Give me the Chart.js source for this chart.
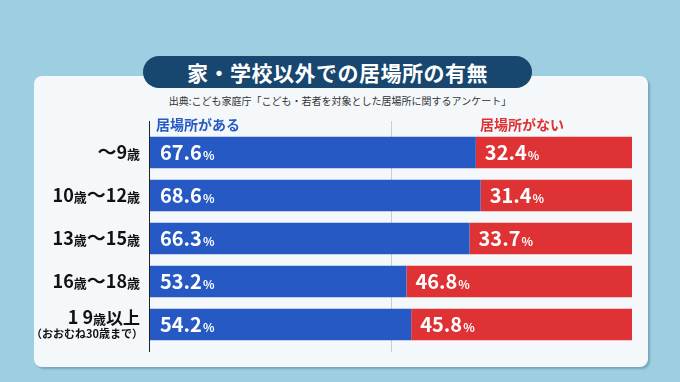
<!DOCTYPE html>
<html lang="ja">
<head>
<meta charset="utf-8">
<script src="https://cdn.jsdelivr.net/npm/chart.js@4"></script>
<style>
  body { margin: 0; width: 680px; height: 382px; background: #9dcee2; position: relative; overflow: hidden;
         font-family: "Noto Sans CJK JP", "Noto Sans", sans-serif; }
  #card { position: absolute; left: 34px; top: 76px; width: 614px; height: 291px; background: #f4f8fa;
          border-radius: 8px; box-shadow: 2px 2px 2px rgba(0, 50, 80, 0.25); }
  #title { position: absolute; left: 143px; top: 56px; width: 389px; height: 32px; border-radius: 16px;
           background: #17466f; color: #fff; font-weight: bold; font-size: 21px; line-height: 32px; text-align: center;
           letter-spacing: 0.5px; }
  #source { position: absolute; left: 0; width: 680px; top: 93px; text-align: center; font-size: 10px; color: #333; }
  #wrap { position: absolute; left: 34px; top: 110px; }
</style>
</head>
<body>
<div id="card"></div>
<div id="title">家・学校以外での居場所の有無</div>
<div id="source">出典:こども家庭庁「こども・若者を対象とした居場所に関するアンケート」</div>
<div id="wrap"><canvas id="chart" width="614" height="257"></canvas></div>
<script>
const categories = ['〜9歳', '10歳〜12歳', '13歳〜15歳', '16歳〜18歳', '19歳以上'];
const subLabels = ['', '', '', '', '（おおむね30歳まで）'];
const seriesNames = ['居場所がある', '居場所がない'];
const hasPlace = [67.6, 68.6, 66.3, 53.2, 54.2];
const noPlace = [32.4, 31.4, 33.7, 46.8, 45.8];

const blue = '#2659c4';
const red = '#de3234';
const font = '"Noto Sans CJK JP", "Noto Sans", sans-serif';

// label made of runs: 歳 smaller than the digits
function drawCategory(ctx, text, xRight, y, digitGap) {
  const runs = [];
  for (const ch of text) {
    let size = 18;
    let gap = 0;
    if (ch === '歳') size = 13;
    else if (ch === '〜') size = 19;
    else if (ch === '以' || ch === '上') size = 17;
    else if (/[0-9]/.test(ch)) gap = digitGap || 0;
    runs.push({ ch, gap, f: 'bold ' + size + 'px ' + font });
  }
  let w = 0;
  runs.forEach(r => { ctx.font = r.f; r.w = ctx.measureText(r.ch).width + r.gap; w += r.w; });
  let x = xRight - w;
  ctx.textAlign = 'left';
  ctx.textBaseline = 'alphabetic';
  runs.forEach(r => { ctx.font = r.f; ctx.fillText(r.ch, x + r.gap, y); x += r.w; });
}

const decorPlugin = {
  id: 'decor',
  beforeDatasetsDraw(chart) {
    const { ctx, chartArea } = chart;
    const xs = chart.scales.x;
    ctx.save();
    // 50% guide
    ctx.strokeStyle = '#c9cdd0';
    ctx.lineWidth = 1;
    const mid = Math.round(xs.getPixelForValue(50)) + 0.5;
    ctx.beginPath();
    ctx.moveTo(mid, chartArea.top - 10);
    ctx.lineTo(mid, chartArea.bottom + 6);
    ctx.stroke();
    // axis line
    ctx.strokeStyle = '#222';
    const x0 = Math.round(xs.getPixelForValue(0)) - 0.5;
    ctx.beginPath();
    ctx.moveTo(x0, chartArea.top - 10);
    ctx.lineTo(x0, chartArea.bottom + 6);
    ctx.stroke();
    ctx.restore();
  },
  afterDatasetsDraw(chart) {
    const { ctx, chartArea } = chart;
    const ys = chart.scales.y;
    ctx.save();
    ctx.fillStyle = '#111';
    categories.forEach((c, i) => {
      const y = ys.getPixelForValue(i);
      if (subLabels[i]) {
        drawCategory(ctx, c, chartArea.left - 10, y - 1, 4);
        ctx.font = 'bold 11px ' + font;
        ctx.textAlign = 'right';
        ctx.fillText(subLabels[i], chartArea.left - 7, y + 13);
      } else {
        drawCategory(ctx, c, chartArea.left - 10, y + 6, 0);
      }
    });
    // series names
    ctx.font = 'bold 14px ' + font;
    ctx.textBaseline = 'middle';
    ctx.textAlign = 'left';
    ctx.fillStyle = blue;
    ctx.fillText(seriesNames[0], chartArea.left + 6, chartArea.top - 6);
    ctx.textAlign = 'right';
    ctx.fillStyle = red;
    ctx.fillText(seriesNames[1], chartArea.right - 68, chartArea.top - 6);
    // values inside bars
    ctx.fillStyle = '#fff';
    ctx.textAlign = 'left';
    ctx.textBaseline = 'alphabetic';
    chart.data.datasets.forEach((ds, di) => {
      chart.getDatasetMeta(di).data.forEach((bar, i) => {
        const left = Math.min(bar.x, bar.base);
        const num = ds.data[i].toFixed(1);
        const x = left + (di === 0 ? 10 : 9);
        ctx.font = 'bold 20px ' + font;
        ctx.fillText(num, x, bar.y + 7);
        const w = ctx.measureText(num).width;
        ctx.font = 'bold 12px ' + font;
        ctx.fillText('%', x + w + 1, bar.y + 7);
      });
    });
    ctx.restore();
  }
};

new Chart(document.getElementById('chart'), {
  type: 'bar',
  data: {
    labels: categories,
    datasets: [
      { label: seriesNames[0], data: hasPlace, backgroundColor: blue },
      { label: seriesNames[1], data: noPlace, backgroundColor: red }
    ]
  },
  options: {
    indexAxis: 'y',
    responsive: false,
    animation: false,
    layout: { padding: { left: 116, right: 16, top: 21, bottom: 21 } },
    datasets: { bar: { categoryPercentage: 1, barPercentage: 0.73 } },
    scales: {
      x: { stacked: true, min: 0, max: 100, display: false },
      y: { stacked: true, display: false }
    },
    plugins: { legend: { display: false }, tooltip: { enabled: false } }
  },
  plugins: [decorPlugin]
});
</script>
</body>
</html>
